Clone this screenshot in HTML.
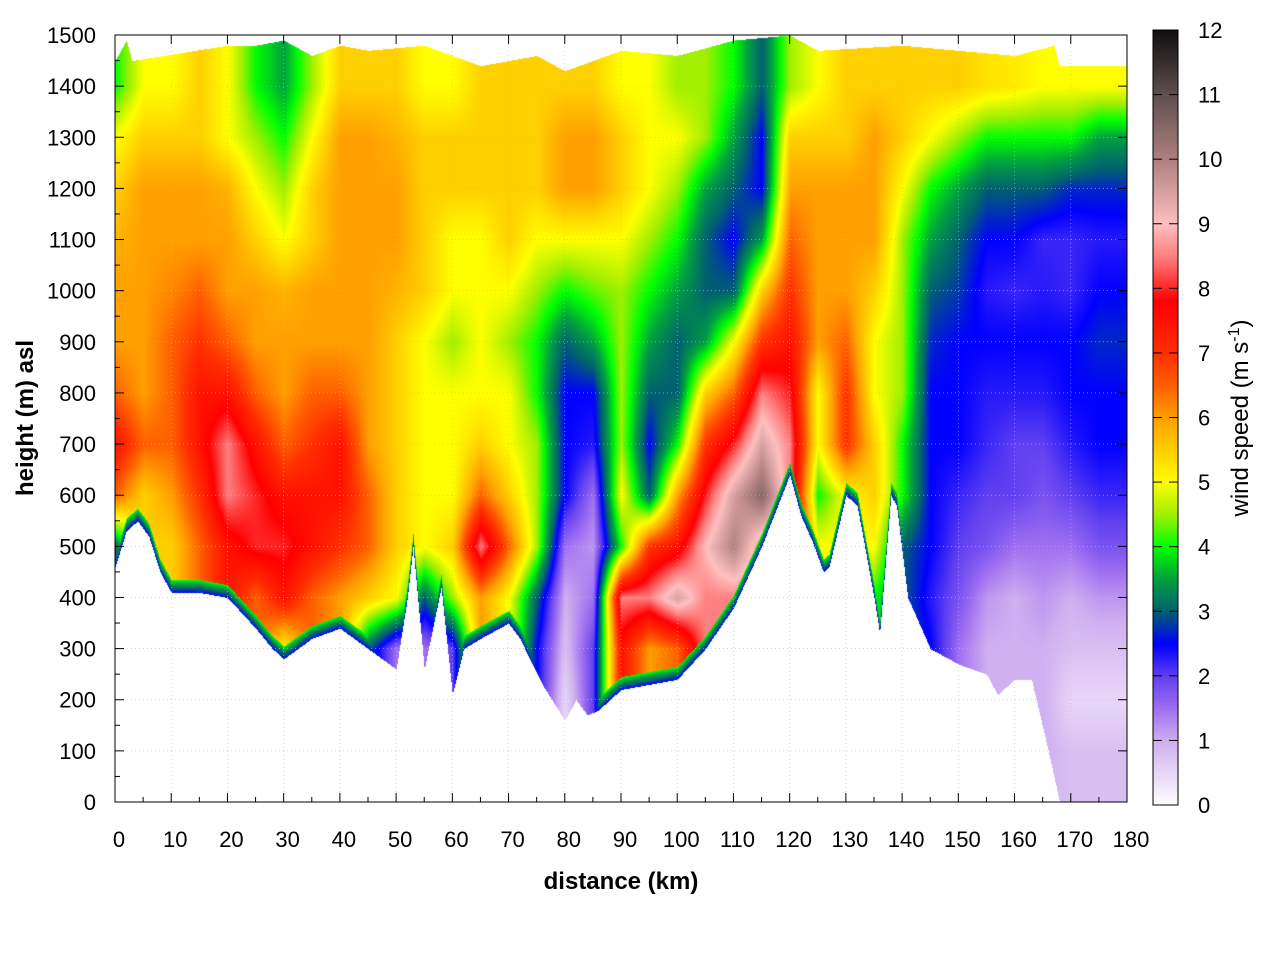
<!DOCTYPE html>
<html><head><meta charset="utf-8"><style>
body{margin:0;background:#fff;width:1280px;height:960px;overflow:hidden;font-family:"Liberation Sans",sans-serif}
#wrap{position:relative;width:1280px;height:960px}
canvas{position:absolute}
</style></head><body>
<div id="wrap">
<canvas id="plot" width="1012" height="767" style="left:115px;top:35px"></canvas>
<canvas id="cbar" width="25" height="775" style="left:1153px;top:30px"></canvas>
<svg id="ax" width="1280" height="960" style="position:absolute;left:0;top:0"></svg>
</div>
<script>
const colKm=[0,5,10,15,20,25,30,35,40,45,50,55,60,65,70,75,80,85,90,95,100,105,110,115,120,125,130,135,140,145,150,155,160,165,170,175,180];
const rowM=[0,100,200,300,400,500,600,700,800,900,1000,1100,1200,1300,1400,1500];
const speed=[
[3,3,3,3,3,3,6.5,7.5,6.5,6,6,5.8,5.5,5,4,4],
[5.5,5.5,5.5,5.5,5.5,5.5,5.5,6.5,6,6,6,6,6,5.5,5,5],
[5.5,5.5,5.5,5.5,5.5,5.5,6,6.5,6.5,6.5,6.2,6,6,5.5,5,5],
[6.5,6.5,6.5,6.5,6.5,6.5,7,7.5,7.5,7,6.5,6,6,5.5,5.5,5.5],
[7.5,7.5,7.5,7.5,7.5,7.5,8.5,8.5,7.5,6.5,6,6,5.8,5,5,5],
[6.5,6.5,6.5,6.5,6.5,8,8,7.5,6.5,6,6,5.5,5,4.5,4,4],
[5,5,5,5,7.5,8,7.5,6.5,6,6,5.8,5,4.5,4,3.5,3.5],
[6.5,6.5,6.5,6.5,6.5,7.5,7.5,7,6.5,6,6,5.5,5.5,5,4.5,4.5],
[6,6,6,6,6,7,7.5,7.5,6.5,6,6,6,6,6,5.5,5.5],
[3,3,3,3,5.5,6.5,6.5,6,6,6,6,6,6,6,5.5,5.5],
[1.5,1.5,1.5,1.5,5,5.5,5.5,5.5,5.5,5.5,5.8,6,6,5.8,5.5,5.5],
[1.5,1.5,1.5,1.5,3,5,5,5,5,5,5.5,5.5,5.5,5.5,5,5],
[2,2,2,2,4.5,5.5,5,5,5,4.5,5,5,5.5,5.5,5,5],
[6,6,6,6,6,8.5,6.5,5.5,5,5,5,5,5.5,5.5,5.5,5.5],
[5,5,5,5,5,6.5,5.5,5,5,4.5,5,5.5,5.5,5.5,5.5,5.5],
[2.5,2.5,2.5,2.5,3,4.5,4.5,4.5,4,4,4.5,5,5.5,5.5,5.5,5.5],
[0.5,0.5,0.5,0.8,1,1.5,2.5,2.5,2.5,3,4,5,6,6,5.5,5.5],
[2,2,2,2,1.5,1.2,1.5,2.3,2.5,3.5,4.3,5,6,6,5.5,5.5],
[7.5,7.5,7.5,7.5,8.5,4,5,4.5,4.5,4.5,4.5,5,5.5,5.5,5,5],
[6,6,6,6,8.5,7,3,2.5,3,3.5,4,4.5,5,5,5,5],
[6.5,6.5,6.5,6.5,9.5,7.5,6,4,3,3,3.5,4,4.5,5,4.5,4.5],
[8.5,8.5,8.5,8.5,8.5,9,8,7,5.5,3.5,3,3,3.5,4.5,4.5,4.5],
[8.5,8.5,8.5,8.5,8.5,10,9.5,8,6.5,5,3,2.5,3,3.5,4,4],
[8.5,8.5,8.5,8.5,8.5,8.5,10.5,9.5,8.5,7,5.5,3.5,2.5,2.5,3,3],
[8.5,8.5,8.5,8.5,8.5,8.5,8.5,8.5,8,7.5,7,6.5,6,5.5,4.5,4.5],
[5,5,5,5,5,5,4,5,5,6,6,6,6,5.5,5,5],
[5,5,5,5,5,5,5,7,7,6.5,6,6,6,5.5,5.5,5.5],
[4,4,4,4,4,5,5.5,5.5,5,5,5.5,6,6,6,5.5,5.5],
[3,3,3,3,3,3,4,4,4.5,4.5,4.5,4.5,5,5.5,5.5,5.5],
[2.5,2.5,2.5,2.5,2.3,2.5,2.5,2.5,2.5,2.7,3,3.5,4,5,5.5,5.5],
[1.5,1.5,1.5,1.5,1.8,2,2.2,2.5,2.5,2.5,2.8,3,3.5,4.5,5.5,5.5],
[1,1,1,1,1.2,1.8,2,2.2,2.3,2.5,2.3,2.5,3,4,5.3,5.3],
[1,1,1,1,1,1.5,2,2,2.3,2.5,2.2,2.5,3,4,5.2,5.2],
[1,1,1,1,1.2,1.5,1.8,2,2.3,2.5,2.3,2.2,3,4,5,5],
[0.8,0.8,0.5,0.8,1,1.5,2,2.3,2.5,2.5,2.2,2.2,2.7,4,5,5],
[0.8,0.8,0.5,0.8,1.2,1.8,2.2,2.5,2.5,2.7,2.5,2.3,2.7,3.5,5,5],
[0.8,0.8,0.5,0.8,1.2,1.8,2.2,2.5,2.5,2.7,2.5,2.3,2.7,3.5,5,5]
];
const terrainKm=[0,2,4,6,8,10,15,20,25,28,30,35,40,45,50,52,53,55,58,60,62,65,70,72,76,80,82,84,86,90,95,100,105,110,115,120,122,124,126,127,130,132,135,136,138,139,141,145,150,155,157,160,163,166,168,180];
const terrainM=[460,530,550,520,450,410,410,400,340,300,280,320,340,300,260,400,500,260,420,210,300,320,350,320,230,160,200,170,180,220,230,240,300,380,500,640,560,510,450,460,600,580,400,330,600,580,400,300,270,250,210,240,240,100,0,0];
const topKm=[0,2,3,20,25,30,35,40,45,55,65,75,80,90,100,110,120,125,140,160,167,168,180];
const topM=[1450,1490,1450,1480,1480,1490,1460,1480,1470,1480,1440,1460,1430,1470,1460,1490,1500,1470,1480,1460,1480,1440,1440];
const cmapV=[0,1,1.5,2,2.5,3,3.5,4,4.5,5,5.5,6,6.5,7,7.8,8.5,9,10,11,12];
const cmapC=[[255,255,255],[208,176,240],[160,112,240],[96,64,240],[0,0,255],[0,96,112],[0,160,64],[0,255,0],[160,240,0],[255,255,0],[255,208,0],[255,160,0],[255,96,0],[255,48,0],[255,0,0],[255,128,128],[255,192,192],[176,128,128],[96,80,80],[16,16,16]];

const X0=115,X1=1127,Y0=802,Y1=35;
const xs=km=>X0+(km/180)*(X1-X0);
const ys=m=>Y0-(m/1500)*(Y0-Y1);
function lerpArr(xa,ya,x){if(x<=xa[0])return ya[0];for(let i=1;i<xa.length;i++){if(x<=xa[i]){const t=(x-xa[i-1])/(xa[i]-xa[i-1]);return ya[i-1]+t*(ya[i]-ya[i-1]);}}return ya[ya.length-1];}
function cmap(v){v=Math.max(0,Math.min(12,v));for(let i=1;i<cmapV.length;i++){if(v<=cmapV[i]){const t=(v-cmapV[i-1])/(cmapV[i]-cmapV[i-1]);const a=cmapC[i-1],b=cmapC[i];return [a[0]+t*(b[0]-a[0]),a[1]+t*(b[1]-a[1]),a[2]+t*(b[2]-a[2])];}}return cmapC[cmapC.length-1];}
function val(km,m){let c=km/5;let ci=Math.min(Math.floor(c),colKm.length-2);let ct=c-ci;let r=m/100;let ri=Math.min(Math.floor(r),rowM.length-2);let rt=r-ri;
const a=speed[ci][ri],b=speed[ci+1][ri],cc=speed[ci][ri+1],d=speed[ci+1][ri+1];
return (a*(1-ct)+b*ct)*(1-rt)+(cc*(1-ct)+d*ct)*rt;}
// heatmap
(function(){const cv=document.getElementById('plot');const ctx=cv.getContext('2d');const W=cv.width,H=cv.height;const img=ctx.createImageData(W,H);
for(let px=0;px<W;px++){const km=px/W*180;const tg=lerpArr(terrainKm,terrainM,km);const tp=lerpArr(topKm,topM,km);
for(let py=0;py<H;py++){const m=(H-py)/H*1500;const o=(py*W+px)*4;let col;
if(m<tg||m>tp){col=[255,255,255];}else{let v=val(km,m);const dz=m-tg;if(dz<25){v=Math.min(v,2.5+dz/25*1.5);}col=cmap(v);}
img.data[o]=col[0];img.data[o+1]=col[1];img.data[o+2]=col[2];img.data[o+3]=255;}}
ctx.putImageData(img,0,0);
const cb=document.getElementById('cbar');const c2=cb.getContext('2d');for(let py=0;py<cb.height;py++){const v=(cb.height-py)/cb.height*12;const c=cmap(v);c2.fillStyle=`rgb(${c[0]|0},${c[1]|0},${c[2]|0})`;c2.fillRect(0,py,25,1);}})();
// axes
const NS='http://www.w3.org/2000/svg';const svg=document.getElementById('ax');
function mk(tag,attrs,txt){const e=document.createElementNS(NS,tag);for(const k in attrs)e.setAttribute(k,attrs[k]);if(txt!==undefined)e.textContent=txt;svg.appendChild(e);return e;}
const xTicks=[0,10,20,30,40,50,60,70,80,90,100,110,120,130,140,150,160,170,180];
const yTicks=[0,100,200,300,400,500,600,700,800,900,1000,1100,1200,1300,1400,1500];
const cTicks=[0,1,2,3,4,5,6,7,8,9,10,11,12];
xTicks.forEach(k=>{const x=xs(k);
if(k>0&&k<180){const g=mk('line',{x1:x,x2:x,y1:Y1,y2:Y0,stroke:'#bbb','stroke-width':0.6,'stroke-dasharray':'1,3'});}
const t=mk('line',{x1:x,x2:x,y1:Y0,y2:Y0-9,stroke:'#000'});
const t2=mk('line',{x1:x,x2:x,y1:Y1,y2:Y1+9,stroke:'#000'});
if(k<180){const xm=xs(k+5);const m1=mk('line',{x1:xm,x2:xm,y1:Y0,y2:Y0-5,stroke:'#000'});}
const l=mk('text',{x:x+4,y:847,'font-size':22,'text-anchor':'middle'},String(k));});
yTicks.forEach(h=>{const y=ys(h);
if(h>0&&h<1500){const g=mk('line',{x1:X0,x2:X1,y1:y,y2:y,stroke:'#bbb','stroke-width':0.6,'stroke-dasharray':'1,3'});}
const t=mk('line',{x1:X0,x2:X0+9,y1:y,y2:y,stroke:'#000'});
const t2=mk('line',{x1:X1,x2:X1-9,y1:y,y2:y,stroke:'#000'});
if(h<1500){const ym=ys(h+50);const m1=mk('line',{x1:X0,x2:X0+5,y1:ym,y2:ym,stroke:'#000'});}
const l=mk('text',{x:96,y:y+8,'font-size':22,'text-anchor':'end'},String(h));});
const fr=mk('rect',{x:X0,y:Y1,width:X1-X0,height:Y0-Y1,fill:'none',stroke:'#000'});
const CB0=805,CB1=30;
cTicks.forEach(v=>{const y=CB0-v/12*(CB0-CB1);
const t=mk('line',{x1:1153,x2:1162,y1:y,y2:y,stroke:'#000'});
const t2=mk('line',{x1:1178,x2:1169,y1:y,y2:y,stroke:'#000'});
const l=mk('text',{x:1198,y:y+8,'font-size':22},String(v));});
const cf=mk('rect',{x:1153,y:CB1,width:25,height:CB0-CB1,fill:'none',stroke:'#000'});
const xt=mk('text',{x:621,y:889,'font-size':24,'font-weight':'bold','text-anchor':'middle'},'distance (km)');
const yt=mk('text',{x:0,y:0,'font-size':24,'font-weight':'bold','text-anchor':'middle',transform:'translate(33,418) rotate(-90)'},'height (m) asl');
const ct=mk('text',{x:0,y:0,'font-size':24,'text-anchor':'middle',transform:'translate(1248,418) rotate(-90)'});
ct.innerHTML='wind speed (m s<tspan dy="-9" font-size="16">-1</tspan><tspan dy="9">)</tspan>';
</script>
</body></html>
